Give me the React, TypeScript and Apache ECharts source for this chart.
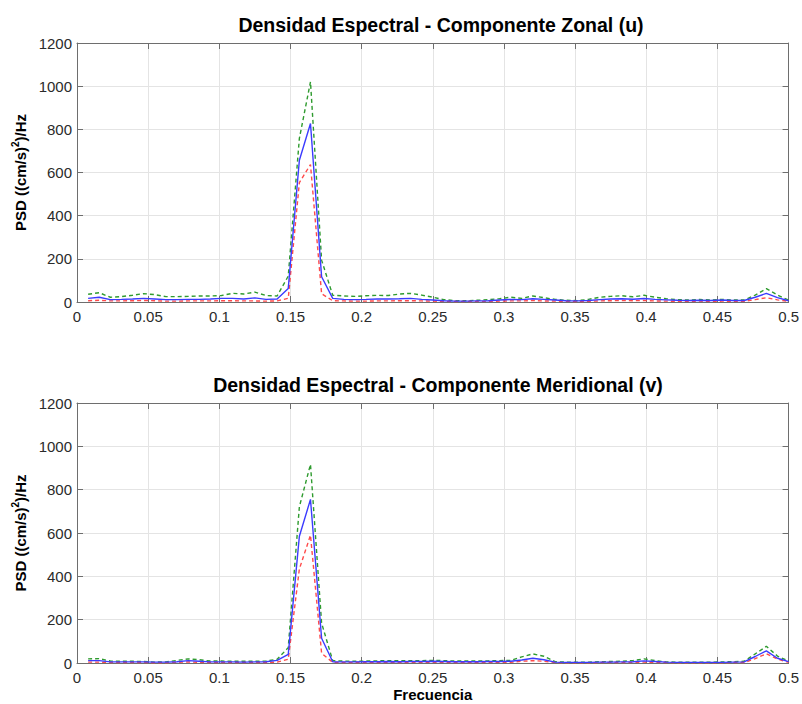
import React, { useEffect, useRef } from "react";
import * as echarts from "echarts";

// Frequency grid of the spectrum (cycles per unit time), resolution 1/128
const FREQ: number[] = Array.from({ length: 64 }, (_, i) => (i + 1) / 128);

const X_TICKS = [0, 0.05, 0.1, 0.15, 0.2, 0.25, 0.3, 0.35, 0.4, 0.45, 0.5];
const Y_TICKS = [0, 200, 400, 600, 800, 1000, 1200];

const TITLE_U = "Densidad Espectral - Componente Zonal (u)";
const TITLE_V = "Densidad Espectral - Componente Meridional (v)";
const X_NAME = "Frecuencia";

// Zonal component (u)
const U_PSD = [17, 22, 11, 12, 14, 17, 14, 11, 11, 12, 12, 14, 17, 17, 14, 19, 12, 14, 63, 657, 827, 117, 17, 12, 11, 12, 14, 14, 15, 17, 12, 9,
  6, 4, 4, 5, 6, 9, 12, 11, 15, 12, 9, 6, 5, 7, 11, 14, 15, 13, 16, 12, 10, 8, 7, 8, 7, 9, 7, 7, 22, 40, 20, 6];
const U_UPPER = [36, 43, 22, 25, 31, 39, 34, 25, 25, 26, 28, 28, 30, 40, 37, 46, 30, 28, 120, 758, 1020, 194, 31, 28, 26, 29, 31, 30, 37, 40, 32, 22,
  11, 6, 6, 8, 11, 15, 22, 17, 28, 20, 12, 8, 6, 12, 22, 26, 29, 24, 31, 22, 15, 11, 9, 12, 9, 12, 9, 9, 32, 62, 32, 9];
const U_LOWER = [6, 8, 5, 5, 6, 7, 6, 4, 4, 5, 5, 5, 6, 6, 5, 5, 4, 5, 17, 553, 637, 38, 6, 5, 4, 4, 5, 5, 6, 6, 5, 4,
  3, 2, 2, 3, 3, 4, 5, 5, 7, 5, 4, 3, 2, 3, 5, 6, 7, 6, 7, 5, 4, 3, 3, 4, 3, 4, 3, 3, 11, 20, 10, 3];

// Meridional component (v)
const V_PSD = [11, 11, 5, 5, 5, 5, 4, 4, 6, 11, 8, 5, 5, 5, 4, 5, 6, 12, 40, 585, 755, 114, 6, 5, 5, 6, 6, 7, 6, 7, 7, 8,
  7, 6, 6, 6, 7, 7, 8, 14, 22, 15, 4, 3, 3, 3, 4, 4, 5, 6, 10, 7, 4, 3, 3, 3, 3, 3, 4, 5, 30, 56, 22, 6];
const V_UPPER = [19, 20, 9, 8, 8, 7, 4, 5, 12, 19, 15, 9, 9, 8, 8, 8, 9, 17, 71, 721, 917, 184, 11, 9, 8, 9, 10, 11, 10, 11, 11, 12,
  11, 9, 9, 9, 10, 11, 12, 28, 42, 31, 6, 4, 4, 4, 6, 7, 8, 11, 19, 11, 5, 4, 4, 4, 4, 5, 6, 8, 42, 77, 32, 9];
const V_LOWER = [4, 4, 2, 2, 2, 2, 1, 1, 3, 5, 3, 2, 2, 2, 2, 2, 2, 4, 17, 434, 590, 45, 3, 2, 2, 2, 2, 3, 2, 3, 3, 3,
  3, 2, 2, 2, 3, 3, 3, 8, 11, 8, 2, 1, 1, 1, 2, 2, 2, 3, 4, 3, 2, 1, 1, 1, 1, 1, 2, 2, 20, 43, 18, 3];

const FONT = "'Liberation Sans', Arial, Helvetica, sans-serif";
const AXIS_COLOR = "#6e6e6e";
const LABEL_COLOR = "#2b2b2b";
const GRID_COLOR = "#e4e4e4";

const pairs = (vals: number[]) => vals.map((v, i) => [FREQ[i], v]);

export default function App() {
  const ref = useRef<HTMLDivElement>(null);

  useEffect(() => {
    if (!ref.current) return;
    const chart = echarts.init(ref.current, undefined, { renderer: "svg" });

    const bottomX = (gridIndex: number, withName: boolean) => ({
      type: "value",
      gridIndex,
      position: "bottom",
      min: X_TICKS[0],
      max: X_TICKS[X_TICKS.length - 1],
      interval: X_TICKS[1] - X_TICKS[0],
      name: withName ? X_NAME : "",
      nameLocation: "middle",
      nameGap: 24,
      nameTextStyle: { fontFamily: FONT, fontSize: 15, fontWeight: "bold", color: "#000" },
      axisLine: { show: true, onZero: false, lineStyle: { color: AXIS_COLOR, width: 1 } },
      axisTick: { show: true, inside: true, length: 6, lineStyle: { color: AXIS_COLOR } },
      axisLabel: {
        show: true,
        margin: 7,
        fontFamily: FONT,
        fontSize: 15,
        color: LABEL_COLOR,
        formatter: (v: number) => String(Math.round(v * 100) / 100),
      },
      splitLine: { show: true, lineStyle: { color: GRID_COLOR, width: 1 } },
    });
    const topX = (gridIndex: number) => ({
      type: "value",
      gridIndex,
      position: "top",
      min: X_TICKS[0],
      max: X_TICKS[X_TICKS.length - 1],
      interval: X_TICKS[1] - X_TICKS[0],
      axisLine: { show: true, onZero: false, lineStyle: { color: AXIS_COLOR, width: 1 } },
      axisTick: { show: true, inside: true, length: 6, lineStyle: { color: AXIS_COLOR } },
      axisLabel: { show: false },
      splitLine: { show: false },
    });
    const leftY = (gridIndex: number) => ({
      type: "value",
      gridIndex,
      position: "left",
      min: Y_TICKS[0],
      max: Y_TICKS[Y_TICKS.length - 1],
      interval: Y_TICKS[1] - Y_TICKS[0],
      name: "{a|PSD ((cm/s)}{s|2}{a|)/Hz}",
      nameLocation: "middle",
      nameGap: 47,
      nameTextStyle: {
        rich: {
          a: { fontFamily: FONT, fontSize: 15, fontWeight: "bold", color: "#000", lineHeight: 20, verticalAlign: "middle" },
          s: { fontFamily: FONT, fontSize: 10, fontWeight: "bold", color: "#000", lineHeight: 10, verticalAlign: "top" },
        },
      },
      axisLine: { show: true, onZero: false, lineStyle: { color: AXIS_COLOR, width: 1 } },
      axisTick: { show: true, inside: true, length: 6, lineStyle: { color: AXIS_COLOR } },
      axisLabel: {
        show: true,
        margin: 5,
        fontFamily: FONT,
        fontSize: 15,
        color: LABEL_COLOR,
        formatter: (v: number) => String(Math.round(v)),
      },
      splitLine: { show: true, lineStyle: { color: GRID_COLOR, width: 1 } },
    });
    const rightY = (gridIndex: number) => ({
      type: "value",
      gridIndex,
      position: "right",
      min: Y_TICKS[0],
      max: Y_TICKS[Y_TICKS.length - 1],
      interval: Y_TICKS[1] - Y_TICKS[0],
      axisLine: { show: true, onZero: false, lineStyle: { color: AXIS_COLOR, width: 1 } },
      axisTick: { show: true, inside: true, length: 6, lineStyle: { color: AXIS_COLOR } },
      axisLabel: { show: false },
      splitLine: { show: false },
    });

    const line = (vals: number[], color: string, dashed: boolean, gi: number) => ({
      type: "line",
      xAxisIndex: gi * 2,
      yAxisIndex: gi * 2,
      data: pairs(vals),
      showSymbol: false,
      symbol: "none",
      lineStyle: { color, width: 1.4, type: dashed ? [4, 3] : "solid" },
      z: dashed ? 2 : 3,
    });

    const GREEN = "#2f9b2f";
    const BLUE = "#3b3bff";
    const RED = "#ff4a4a";

    chart.setOption({
      animation: false,
      backgroundColor: "#ffffff",
      title: [
        {
          text: TITLE_U,
          left: 436,
          top: 10,
          textAlign: "center",
          textStyle: { fontFamily: FONT, fontSize: 19.5, fontWeight: "bold", color: "#000" },
        },
        {
          text: TITLE_V,
          left: 433,
          top: 370,
          textAlign: "center",
          textStyle: { fontFamily: FONT, fontSize: 19.5, fontWeight: "bold", color: "#000" },
        },
      ],
      grid: [
        { left: 77, width: 712, top: 43, height: 259 },
        { left: 77, width: 712, top: 403, height: 260 },
      ],
      xAxis: [bottomX(0, false), topX(0), bottomX(1, true), topX(1)],
      yAxis: [leftY(0), rightY(0), leftY(1), rightY(1)],
      series: [
        line(U_UPPER, GREEN, true, 0),
        line(U_LOWER, RED, true, 0),
        line(U_PSD, BLUE, false, 0),
        line(V_UPPER, GREEN, true, 1),
        line(V_LOWER, RED, true, 1),
        line(V_PSD, BLUE, false, 1),
      ],
    });

    return () => chart.dispose();
  }, []);

  return (
    <div
      ref={ref}
      style={{ position: "fixed", left: 0, top: 0, width: 802, height: 704, background: "#fff" }}
    />
  );
}
